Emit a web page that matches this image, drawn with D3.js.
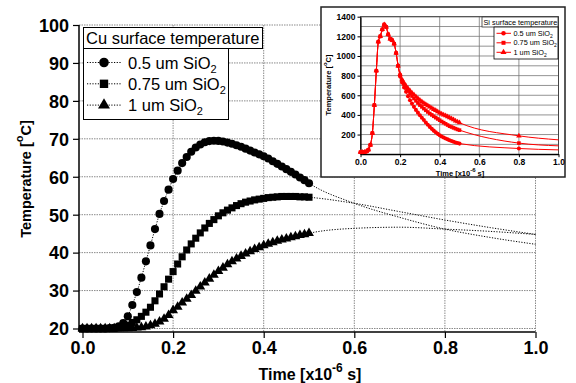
<!DOCTYPE html>
<html>
<head>
<meta charset="utf-8">
<script src="https://cdn.jsdelivr.net/npm/d3@7"></script>
<style>
  html, body { margin: 0; padding: 0; background: #fff; }
  svg { display: block; }
</style>
</head>
<body>
<figure id="chart" style="margin:0"></figure>
<script>
// time axis in units of 1e-6 s, sampled every 0.01
const timeUs = [0.00, 0.01, 0.02, 0.03, 0.04, 0.05, 0.06, 0.07, 0.08, 0.09,
  0.10, 0.11, 0.12, 0.13, 0.14, 0.15, 0.16, 0.17, 0.18, 0.19,
  0.20, 0.21, 0.22, 0.23, 0.24, 0.25, 0.26, 0.27, 0.28, 0.29,
  0.30, 0.31, 0.32, 0.33, 0.34, 0.35, 0.36, 0.37, 0.38, 0.39,
  0.40, 0.41, 0.42, 0.43, 0.44, 0.45, 0.46, 0.47, 0.48, 0.49, 0.50];

// Cu surface temperature [°C]
const cu05 = [20.0, 20.0, 20.0, 20.0, 20.0, 20.0, 20.1, 20.2, 20.6, 21.4,
  23.2, 26.2, 29.6, 33.4, 37.7, 41.9, 46.2, 50.2, 53.6, 56.6,
  59.4, 61.6, 63.6, 65.2, 66.6, 67.7, 68.5, 69.1, 69.4, 69.5,
  69.45, 69.3, 69.0, 68.7, 68.3, 67.9, 67.4, 66.9, 66.4, 65.9,
  65.4, 64.8, 64.1, 63.4, 62.7, 62.0, 61.3, 60.6, 59.8, 59.1, 58.3];
const cu075 = [20.0, 20.0, 20.0, 20.0, 20.0, 20.0, 20.0, 20.0, 20.2, 20.4,
  20.9, 21.6, 22.3, 23.2, 24.3, 25.6, 27.3, 29.1, 31.0, 33.0,
  35.0, 37.0, 38.9, 40.7, 42.3, 43.8, 45.2, 46.5, 47.7, 48.7,
  49.7, 50.5, 51.2, 51.8, 52.4, 52.9, 53.3, 53.6, 53.9, 54.1,
  54.3, 54.5, 54.6, 54.7, 54.8, 54.8, 54.8, 54.8, 54.7, 54.7, 54.6];
const cu1 = [20.0, 20.0, 20.0, 20.0, 20.0, 20.0, 20.0, 20.0, 20.0, 20.0,
  20.0, 20.1, 20.2, 20.3, 20.5, 20.8, 21.2, 21.8, 22.5, 23.5,
  24.8, 25.7, 26.8, 27.8, 28.8, 29.9, 31.0, 32.1, 33.1, 34.1,
  35.1, 36.0, 36.9, 37.7, 38.4, 39.1, 39.7, 40.3, 40.9, 41.4,
  41.9, 42.3, 42.7, 43.1, 43.4, 43.7, 44.0, 44.3, 44.6, 44.8, 45.1];

// dotted continuation beyond 0.5 (no markers)
const cuTailT = [0.5, 0.6, 0.7, 0.8, 0.9, 1.0];
const cu05Tail = [58.3, 53.0, 49.3, 46.2, 44.0, 42.2];
const cu075Tail = [54.6, 53.0, 50.8, 48.6, 46.6, 44.8];
const cu1Tail = [45.1, 46.4, 46.7, 46.2, 45.6, 44.8];

// Si surface temperature [°C] (inset)
const si05 = [20, 20, 22, 28, 45, 95, 215, 500, 850, 1145,
  1200, 1270, 1320, 1295, 1220, 1175, 1160, 1125, 1030, 900,
  790, 730, 680, 635, 590, 550, 515, 482, 451, 423,
  397, 372, 348, 322, 299, 278, 258, 240, 223, 207,
  193, 181, 170, 160, 151, 142, 134, 127, 120, 114, 108];
const si075 = [20, 20, 22, 28, 45, 95, 215, 500, 850, 1145,
  1200, 1270, 1320, 1295, 1220, 1175, 1160, 1125, 1030, 900,
  805, 750, 710, 675, 645, 618, 592, 567, 543, 521,
  500, 482, 464, 447, 430, 414, 400, 386, 372, 359,
  346, 333, 321, 309, 297, 285, 277, 268, 260, 252, 245];
const si1 = [20, 20, 22, 28, 45, 95, 215, 500, 850, 1145,
  1200, 1270, 1320, 1295, 1220, 1175, 1160, 1125, 1030, 900,
  815, 760, 725, 695, 670, 648, 625, 605, 585, 567,
  550, 535, 520, 507, 494, 482, 469, 457, 445, 433,
  421, 411, 401, 392, 382, 373, 362, 351, 340, 330, 320];
const siTailT = [0.5, 0.8, 1.0];
const si05Tail = [108, 58, 44];
const si075Tail = [245, 113, 85];
const si1Tail = [320, 187, 146];

const xTicks = [0, 0.2, 0.4, 0.6, 0.8, 1.0];
const yTicks = [20, 30, 40, 50, 60, 70, 80, 90, 100];
const siXTicks = [0, 0.2, 0.4, 0.6, 0.8, 1.0];
const siYTicks = [200, 400, 600, 800, 1000, 1200, 1400];
const siYGrid = [100, 200, 300, 400, 500, 600, 700, 800, 900, 1000, 1100, 1200, 1300, 1400];

const seriesNames = ['0.5 um SiO', '0.75 um SiO', '1 um SiO'];
const symbolTypes = [d3.symbolCircle, d3.symbolSquare, d3.symbolTriangle];

const width = 576, height = 383;
const bold = "'Liberation Sans', Arial, sans-serif";

const svg = d3.select('#chart').append('svg')
  .attr('width', width)
  .attr('height', height);

svg.append('rect').attr('width', width).attr('height', height).attr('fill', '#fff');

// ---------- main chart ----------
const x = d3.scaleLinear().domain([0, 1]).range([82.5, 535.5]);
const y = d3.scaleLinear().domain([20, 100]).range([328.5, 25]);

const grid = svg.append('g');
grid.selectAll('.hg')
  .data(yTicks)
  .enter()
  .append('line')
  .attr('x1', 79).attr('x2', x(1))
  .attr('y1', d => y(d)).attr('y2', d => y(d))
  .attr('stroke', '#8a8a8a')
  .attr('stroke-width', 1)
  .attr('stroke-dasharray', '1.5,1');
grid.selectAll('.vg')
  .data(xTicks.slice(1))
  .enter()
  .append('line')
  .attr('x1', d => x(d)).attr('x2', d => x(d))
  .attr('y1', y(100)).attr('y2', 332)
  .attr('stroke', '#8a8a8a')
  .attr('stroke-width', 1)
  .attr('stroke-dasharray', '1.5,1');

const xAxis = d3.axisBottom(x).tickValues(xTicks).tickFormat(d3.format('.1f')).tickSize(6).tickSizeOuter(0);
const yAxis = d3.axisLeft(y).tickValues(yTicks).tickFormat(d3.format('d')).tickSize(6).tickSizeOuter(0);

const gx = svg.append('g').attr('transform', 'translate(0,332)').call(xAxis);
gx.select('.domain').attr('d', `M79,0H${x(1)}`).attr('stroke', '#000').attr('stroke-width', 1.5);
gx.selectAll('.tick line').attr('stroke', '#000').attr('stroke-width', 1.2);
gx.selectAll('.tick text')
  .attr('y', 9)
  .style('font-family', bold)
  .style('font-weight', 'bold')
  .style('font-size', '18px')
  .attr('fill', '#000');

const gy = svg.append('g').attr('transform', 'translate(79,0)').call(yAxis);
gy.select('.domain').attr('d', `M0,${y(100)}V332`).attr('stroke', '#000').attr('stroke-width', 1.5);
gy.selectAll('.tick line').attr('stroke', '#000').attr('stroke-width', 1.2);
gy.selectAll('.tick text')
  .attr('x', -10)
  .attr('dy', '0.35em')
  .style('font-family', bold)
  .style('font-weight', 'bold')
  .style('font-size', '18px')
  .attr('fill', '#000');

const xTitle = svg.append('text')
  .attr('x', 310).attr('y', 380)
  .attr('text-anchor', 'middle')
  .style('font-family', bold).style('font-weight', 'bold').style('font-size', '16px');
xTitle.append('tspan').text('Time [x10');
xTitle.append('tspan').attr('dy', -8).style('font-size', '12px').text('-6');
xTitle.append('tspan').attr('dy', 8).text(' s]');

const yTitle = svg.append('text')
  .attr('transform', 'translate(31,179) rotate(-90)')
  .attr('text-anchor', 'middle')
  .style('font-family', bold).style('font-weight', 'bold').style('font-size', '14.5px');
yTitle.append('tspan').text('Temperature [');
yTitle.append('tspan').attr('dy', -8).style('font-size', '11px').text('o');
yTitle.append('tspan').attr('dy', 8).text('C]');

const cuSeries = [
  {values: cu05, tail: cu05Tail},
  {values: cu075, tail: cu075Tail},
  {values: cu1, tail: cu1Tail}
];

const cuLine = d3.line()
  .x(d => x(d[0]))
  .y(d => y(d[1]))
  .curve(d3.curveMonotoneX);

cuSeries.forEach((s, i) => {
  const pts = timeUs.map((t, j) => [t, s.values[j]])
    .concat(cuTailT.slice(1).map((t, j) => [t, s.tail[j + 1]]));
  svg.append('path')
    .datum(pts)
    .attr('d', cuLine)
    .attr('fill', 'none')
    .attr('stroke', '#000')
    .attr('stroke-width', 1)
    .attr('stroke-dasharray', '1.2,1.5');
});

const markerSize = [52, 50, 42];
cuSeries.forEach((s, i) => {
  svg.append('g').selectAll('path')
    .data(timeUs.map((t, j) => [t, s.values[j]]))
    .enter()
    .append('path')
    .attr('transform', d => `translate(${x(d[0])},${y(d[1])})`)
    .attr('d', d3.symbol().type(symbolTypes[i]).size(markerSize[i]))
    .attr('fill', '#000');
});

// main legend
const leg = svg.append('g');
leg.append('rect')
  .attr('x', 83.5).attr('y', 27.5).attr('width', 179).attr('height', 21)
  .attr('fill', '#fff').attr('stroke', '#000').attr('stroke-width', 1);
leg.append('text')
  .attr('x', 86).attr('y', 44)
  .text('Cu surface temperature')
  .style('font-family', bold).style('font-size', '16.5px');
leg.append('rect')
  .attr('x', 83.5).attr('y', 48.5).attr('width', 145).attr('height', 71)
  .attr('fill', '#fff').attr('stroke', '#000').attr('stroke-width', 1);

const legItem = leg.selectAll('.legend')
  .data(seriesNames)
  .enter()
  .append('g')
  .attr('class', 'legend')
  .attr('transform', (d, i) => `translate(0,${62.5 + i * 21.3})`);
legItem.append('line')
  .attr('x1', 87).attr('x2', 121).attr('y1', 0).attr('y2', 0)
  .attr('stroke', '#000').attr('stroke-dasharray', '1.2,1.5');
legItem.append('path')
  .attr('transform', 'translate(104,0)')
  .attr('d', (d, i) => d3.symbol().type(symbolTypes[i]).size(markerSize[i] + 20)());
const legText = legItem.append('text')
  .attr('x', 128).attr('y', 6)
  .style('font-family', bold).style('font-size', '16.5px');
legText.append('tspan').text(d => d);
legText.append('tspan').attr('dy', 4).style('font-size', '11px').text('2');

// ---------- inset ----------
const ins = svg.append('g');
ins.append('rect')
  .attr('x', 321).attr('y', 7).attr('width', 244).attr('height', 170)
  .attr('fill', '#fff').attr('stroke', '#222').attr('stroke-width', 1.5);

const sx = d3.scaleLinear().domain([0, 1]).range([360.5, 558.5]);
const sy = d3.scaleLinear().domain([0, 1400]).range([154.2, 16.7]);

ins.selectAll('.shg')
  .data(siYGrid)
  .enter()
  .append('line')
  .attr('x1', sx(0)).attr('x2', sx(1))
  .attr('y1', d => sy(d)).attr('y2', d => sy(d))
  .attr('stroke', '#777').attr('stroke-width', 0.8);
ins.selectAll('.svg')
  .data(siXTicks.slice(1, -1))
  .enter()
  .append('line')
  .attr('x1', d => sx(d)).attr('x2', d => sx(d))
  .attr('y1', sy(1400)).attr('y2', sy(0))
  .attr('stroke', '#777').attr('stroke-width', 0.8);
ins.append('rect')
  .attr('x', sx(0)).attr('y', sy(1400))
  .attr('width', sx(1) - sx(0)).attr('height', sy(0) - sy(1400))
  .attr('fill', 'none').attr('stroke', '#444').attr('stroke-width', 1);

const sxAxis = d3.axisBottom(sx).tickValues(siXTicks).tickFormat(d3.format('.1f')).tickSize(3).tickSizeOuter(0);
const syAxis = d3.axisLeft(sy).tickValues(siYTicks).tickFormat(d3.format('d')).tickSize(3).tickSizeOuter(0);
const sgx = ins.append('g').attr('transform', `translate(0,${sy(0)})`).call(sxAxis);
const sgy = ins.append('g').attr('transform', `translate(${sx(0)},0)`).call(syAxis);
[sgx, sgy].forEach(g => {
  g.select('.domain').attr('stroke', '#000').attr('stroke-width', 1.2);
  g.selectAll('.tick line').attr('stroke', '#000');
  g.selectAll('.tick text')
    .style('font-family', bold).style('font-weight', 'bold').style('font-size', '8.5px')
    .attr('fill', '#000');
});
sgx.selectAll('.tick text').attr('y', 5);
sgy.selectAll('.tick text').attr('x', -5);

const sxTitle = ins.append('text')
  .attr('x', 460).attr('y', 175.5)
  .attr('text-anchor', 'middle')
  .style('font-family', bold).style('font-weight', 'bold').style('font-size', '7.5px');
sxTitle.append('tspan').text('Time [x10');
sxTitle.append('tspan').attr('dy', -4).style('font-size', '6px').text('-6');
sxTitle.append('tspan').attr('dy', 4).text(' s]');

const syTitle = ins.append('text')
  .attr('transform', 'translate(331,85) rotate(-90)')
  .attr('text-anchor', 'middle')
  .style('font-family', bold).style('font-weight', 'bold').style('font-size', '7.5px');
syTitle.append('tspan').text('Temperature [');
syTitle.append('tspan').attr('dy', -4).style('font-size', '6px').text('o');
syTitle.append('tspan').attr('dy', 4).text('C]');

const siSeries = [
  {values: si05, tail: si05Tail},
  {values: si075, tail: si075Tail},
  {values: si1, tail: si1Tail}
];

const siLine = d3.line()
  .x(d => sx(d[0]))
  .y(d => sy(d[1]))
  .curve(d3.curveMonotoneX);

const red = '#ff0000';
siSeries.forEach((s, i) => {
  const pts = timeUs.map((t, j) => [t, s.values[j]])
    .concat(siTailT.slice(1).map((t, j) => [t, s.tail[j + 1]]));
  ins.append('path')
    .datum(pts)
    .attr('d', siLine)
    .attr('fill', 'none')
    .attr('stroke', red)
    .attr('stroke-width', 1);
  const marks = pts.filter(d => d[0] < 1);
  ins.append('g').selectAll('path')
    .data(marks)
    .enter()
    .append('path')
    .attr('transform', d => `translate(${sx(d[0])},${sy(d[1])})`)
    .attr('d', d3.symbol().type(symbolTypes[i]).size(13))
    .attr('fill', red);
});

// inset legend
ins.append('rect')
  .attr('x', 482).attr('y', 17).attr('width', 76).attr('height', 10)
  .attr('fill', '#fff').attr('stroke', '#333').attr('stroke-width', 0.8);
ins.append('text')
  .attr('x', 483.5).attr('y', 24.8)
  .text('Si surface temperature')
  .style('font-family', bold).style('font-size', '7.3px');
ins.append('rect')
  .attr('x', 494).attr('y', 27).attr('width', 64).attr('height', 32)
  .attr('fill', '#fff').attr('stroke', '#000').attr('stroke-width', 0.8);
const sLeg = ins.selectAll('.slegend')
  .data(seriesNames)
  .enter()
  .append('g')
  .attr('class', 'slegend')
  .attr('transform', (d, i) => `translate(0,${33.3 + i * 9.5})`);
sLeg.append('line')
  .attr('x1', 496.5).attr('x2', 511).attr('y1', 0).attr('y2', 0)
  .attr('stroke', red);
sLeg.append('path')
  .attr('transform', 'translate(503.5,0)')
  .attr('d', (d, i) => d3.symbol().type(symbolTypes[i]).size(16)())
  .attr('fill', red);
const sLegText = sLeg.append('text')
  .attr('x', 513.5).attr('y', 2.6)
  .style('font-family', bold).style('font-size', '7.3px');
sLegText.append('tspan').text(d => d);
sLegText.append('tspan').attr('dy', 2).style('font-size', '5px').text('2');
</script>
</body>
</html>
